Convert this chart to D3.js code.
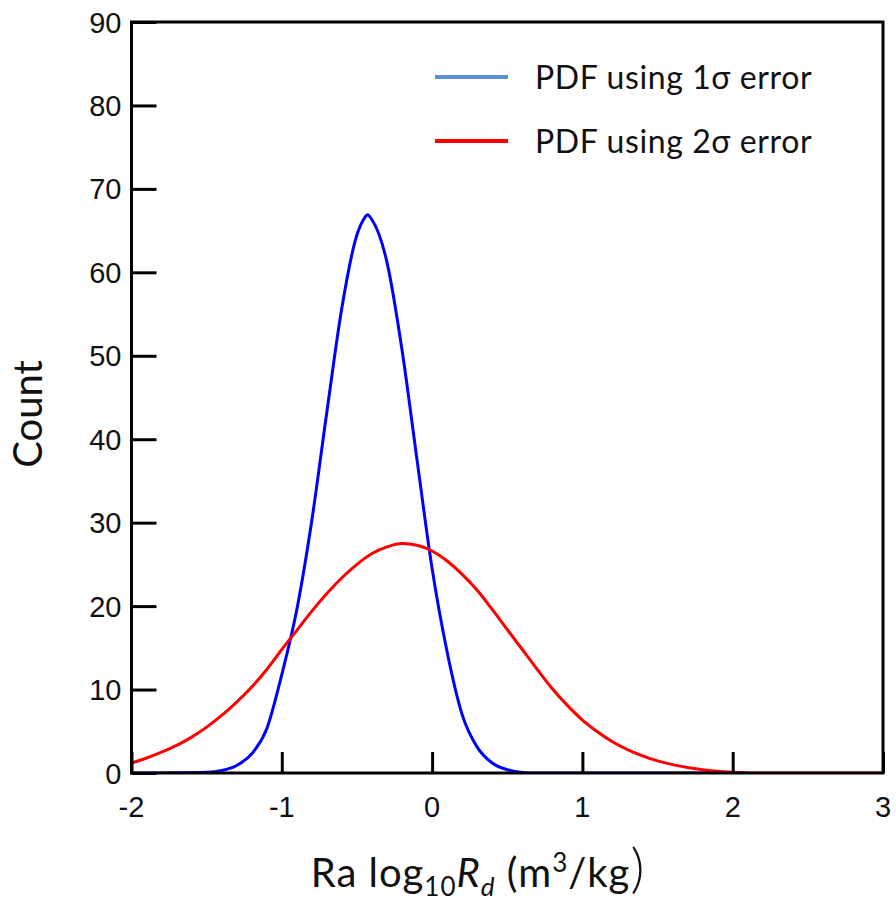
<!DOCTYPE html>
<html lang="en">
<head>
  <meta charset="UTF-8">
  <title>PDF of Ra log10 Rd</title>
  <script src="https://d3js.org/d3.v7.min.js"></script>
  <style>
    body { margin: 0; background: #fff; }
    .tick-label { font-family: "Liberation Sans", Arial, sans-serif; font-size: 29px; fill: #111; }
    .axis-title { font-family: Lato, "Open Sans", sans-serif; fill: #111; }
    .legend-text { font-family: Lato, "Open Sans", sans-serif; font-size: 32px; letter-spacing: 0.6px; fill: #111; }
  </style>
</head>
<body>
  <div id="chart"></div>
  <script>
    // values
    const blueX = [-2.0, -1.5, -1.4, -1.3, -1.2, -1.1, -1.0, -0.9, -0.8, -0.7, -0.6, -0.5, -0.45, -0.43,
                   -0.4, -0.3, -0.2, -0.1, 0.0, 0.1, 0.2, 0.3, 0.4, 0.5, 0.6, 0.7, 2.1];
    const blueY = [0, 0.1, 0.3, 0.9, 2.3, 5.3, 11.8, 19.6, 30.3, 43.3, 55.8, 64.5, 66.5, 66.9,
                   66.3, 61.2, 50.7, 37.5, 24.5, 14.5, 7.0, 3.1, 1.2, 0.4, 0.07, 0, 0];

    const redX = [-2.0, -1.9, -1.8, -1.7, -1.6, -1.5, -1.4, -1.3, -1.2, -1.1, -1.0, -0.9, -0.8, -0.7,
                  -0.6, -0.5, -0.4, -0.3, -0.2, -0.1, 0.0, 0.1, 0.2, 0.3, 0.4, 0.5, 0.6, 0.7, 0.8,
                  0.9, 1.0, 1.1, 1.2, 1.3, 1.4, 1.5, 1.6, 1.7, 1.8, 1.9, 2.0, 2.1, 3.0];
    const redY = [1.2, 1.8, 2.5, 3.3, 4.3, 5.5, 6.9, 8.5, 10.3, 12.4, 14.8, 17.1, 19.4, 21.5,
                  23.4, 25.0, 26.3, 27.1, 27.5, 27.3, 26.6, 25.4, 23.8, 21.9, 19.6, 17.2, 14.8, 12.4, 10.1,
                  8.1, 6.35, 4.95, 3.75, 2.8, 2.05, 1.45, 1.0, 0.65, 0.4, 0.2, 0.08, 0, 0];

    const xTicks = [-2, -1, 0, 1, 2, 3];
    const yTicks = [0, 10, 20, 30, 40, 50, 60, 70, 80, 90];
    const seriesNames = ["PDF using 1σ error", "PDF using 2σ error"];

    const W = 896, H = 902;
    const margin = {top: 22, right: 13, bottom: 129, left: 131.5};
    const width = W - margin.left - margin.right,
          height = H - margin.top - margin.bottom;

    const svg = d3.select("#chart").append("svg")
        .attr("width", W)
        .attr("height", H);

    const g = svg.append("g")
        .attr("transform", `translate(${margin.left},${margin.top})`);

    const x = d3.scaleLinear().domain([-2, 3]).range([0, width]);
    const y = d3.scaleLinear().domain([0, 90]).range([height, 0]);

    // clip so curves stay inside the frame
    g.append("clipPath").attr("id", "clip")
      .append("rect").attr("width", width).attr("height", height);

    const line = d3.line()
        .x(d => x(d[0]))
        .y(d => y(d[1]))
        .curve(d3.curveMonotoneX);

    const blue = blueX.map((v, i) => [v, blueY[i]]);
    const red = redX.map((v, i) => [v, redY[i]]);

    g.append("path")
      .datum(blue)
      .attr("clip-path", "url(#clip)")
      .attr("fill", "none")
      .attr("stroke", "#0000ff")
      .attr("stroke-width", 3)
      .attr("d", line);

    g.append("path")
      .datum(red)
      .attr("clip-path", "url(#clip)")
      .attr("fill", "none")
      .attr("stroke", "#ff0000")
      .attr("stroke-width", 3)
      .attr("d", line);

    // axes with inward ticks
    const xAxis = g.append("g")
      .attr("transform", `translate(0,${height})`)
      .call(d3.axisTop(x).tickValues(xTicks).tickSize(21).tickFormat(""));
    const yAxis = g.append("g")
      .call(d3.axisRight(y).tickValues(yTicks).tickSize(25).tickFormat(""));
    [xAxis, yAxis].forEach(a => {
      a.select(".domain").remove();
      a.selectAll(".tick line").attr("stroke", "#000").attr("stroke-width", 3);
    });

    // frame
    g.append("rect")
      .attr("width", width)
      .attr("height", height)
      .attr("fill", "none")
      .attr("stroke", "#000")
      .attr("stroke-width", 3);

    // tick labels
    g.selectAll(".xlab").data(xTicks).join("text")
      .attr("class", "tick-label")
      .attr("x", d => x(d))
      .attr("y", height + 44)
      .attr("text-anchor", "middle")
      .text(d => d);

    g.selectAll(".ylab").data(yTicks).join("text")
      .attr("class", "tick-label")
      .attr("x", -10)
      .attr("y", d => y(d) + 10.5)
      .attr("text-anchor", "end")
      .text(d => d);

    // axis titles
    svg.append("text")
      .attr("class", "axis-title")
      .attr("transform", "translate(42,414) rotate(-90)")
      .attr("text-anchor", "middle")
      .style("font-size", "40px")
      .text("Count");

    const xt = svg.append("text")
      .attr("class", "axis-title")
      .attr("x", 478)
      .attr("y", 887)
      .attr("text-anchor", "middle")
      .style("font-size", "40px")
      .style("letter-spacing", "1px");
    xt.append("tspan").text("Ra log");
    xt.append("tspan").attr("dy", 9).style("font-size", "26px").text("10");
    xt.append("tspan").attr("dy", -9).style("font-style", "italic").text("R");
    xt.append("tspan").attr("dy", 9).style("font-size", "26px").style("font-style", "italic").text("d");
    xt.append("tspan").attr("dy", -9).text(" (m");
    xt.append("tspan").attr("dy", -15).style("font-size", "26px").text("3");
    xt.append("tspan").attr("dy", 15).text("/kg");
    xt.append("tspan").style("font-size", "54px").style("font-weight", 300).text(")");

    // legend
    const legendColors = ["#5b8fd6", "#ff0000"];
    const legend = svg.append("g");
    seriesNames.forEach((name, i) => {
      const ly = 77 + i * 64;
      legend.append("line")
        .attr("x1", 435).attr("x2", 508)
        .attr("y1", ly).attr("y2", ly)
        .attr("stroke", legendColors[i])
        .attr("stroke-width", 4);
      legend.append("text")
        .attr("class", "legend-text")
        .attr("x", 535)
        .attr("y", ly + 12)
        .text(name);
    });
  </script>
</body>
</html>
